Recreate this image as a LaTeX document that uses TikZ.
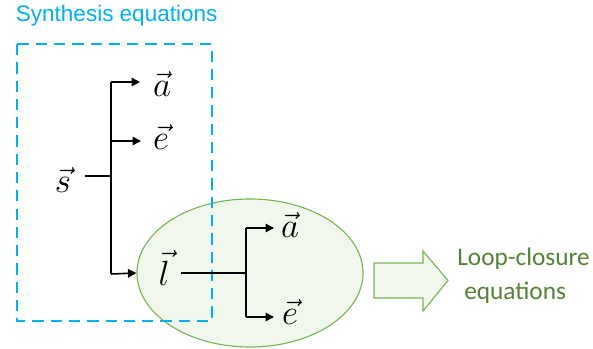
\documentclass[tikz,border=0pt]{standalone}
\usepackage{fontspec}
\newfontfamily\synfont{Liberation Sans}
\newfontfamily\loopfont{Carlito}
\usetikzlibrary{arrows.meta,positioning,shapes.geometric}
\definecolor{synblue}{RGB}{0,176,240}
\definecolor{loopgreen}{RGB}{120,180,80}
\definecolor{loopfill}{RGB}{242,247,238}
\definecolor{looptext}{RGB}{84,130,53}

\begin{document}
\begin{tikzpicture}[x=0.025cm,y=-0.025cm,
  wire/.style={line width=1.1pt},
  branch/.style={wire,-{Triangle[length=6pt,width=6pt]}},
  vec/.style={font=\Huge,inner sep=1pt}]
\useasboundingbox (0,0) rectangle (593,349);
% loop-closure set
\node[ellipse,draw=loopgreen,fill=loopfill,line width=0.8pt,
  minimum width=5.65cm,minimum height=3.7cm] (loop) at (250,273) {};
% synthesis set
\draw[synblue,line width=1.4pt,dash pattern=on 8pt off 5pt] (17,44) rectangle (212,321);
\node[anchor=west,text=synblue,font=\synfont\fontsize{16}{19}\selectfont] (syn) at (11,16) {Synthesis equations};
% first tree
\node[vec] (s) at (63,180) {$\vec{s}$};
\node[vec] (a1) at (162,84) {$\vec{a}$};
\node[vec] (e1) at (161,137) {$\vec{e}$};
\node[vec] (l) at (164,268) {$\vec{l}$};
\coordinate (s0) at (85,176);
\coordinate (sj) at (111,176);
\coordinate (st) at (111,82);
\coordinate (sm) at (111,141);
\coordinate (sb) at (111,274);
\coordinate (ta1) at (140,82);
\coordinate (te1) at (141,141);
\draw[wire] (s0) -- (sj);
\draw[wire] (st) -- (sb);
\draw[branch] (st) -- (ta1);
\draw[branch] (sm) -- (te1);
\draw[branch] (sb) -- (loop.west);
% second tree
\node[vec] (a2) at (290,225) {$\vec{a}$};
\node[vec] (e2) at (290,312) {$\vec{e}$};
\coordinate (l0) at (181,273);
\coordinate (lj) at (246,273);
\coordinate (lt) at (246,228);
\coordinate (lb) at (246,317);
\coordinate (ta2) at (274,228);
\coordinate (te2) at (274,317);
\draw[wire] (l0) -- (lj);
\draw[wire] (lt) -- (lb);
\draw[branch] (lt) -- (ta2);
\draw[branch] (lb) -- (te2);
% block arrow
\draw[draw=loopgreen,fill=loopfill,line width=0.8pt] (374,263) -- (423,263) -- (423,251)
  -- (448,280.5) -- (423,311) -- (423,298) -- (374,298) -- cycle;
\node[anchor=north west,align=left,inner sep=0pt,text=looptext,
  font=\loopfont\fontsize{18}{24}\selectfont] (lc) at (457,248) {Loop-closure\\\hspace{5pt}equations};
\end{tikzpicture}
\end{document}
